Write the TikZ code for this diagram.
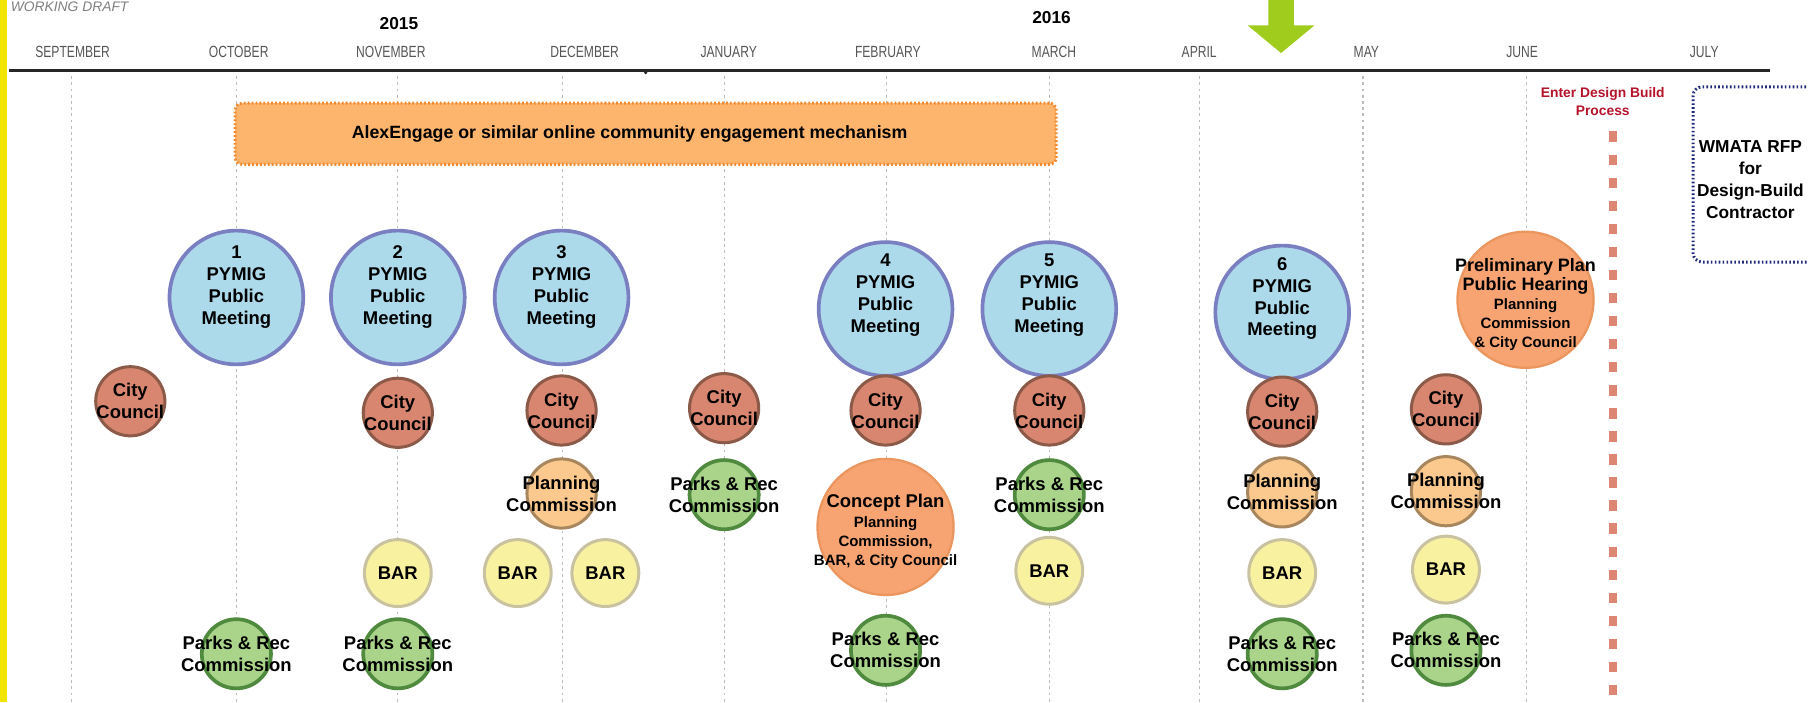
\documentclass[tikz,border=0pt]{standalone}
\usepackage{fontspec}
\setmainfont{Liberation Sans}
\newfontfamily\monthfont[FakeStretch=0.75]{Liberation Sans}
\definecolor{stripyellow}{HTML}{F2E600}
\definecolor{pyfill}{HTML}{ADDAEB}
\definecolor{pyline}{HTML}{7A7FC2}
\definecolor{ccfill}{HTML}{D98670}
\definecolor{ccline}{HTML}{8C5A48}
\definecolor{plfill}{HTML}{FBC98E}
\definecolor{plline}{HTML}{A8865E}
\definecolor{prfill}{HTML}{A9D48A}
\definecolor{prline}{HTML}{4F8A3E}
\definecolor{barfill}{HTML}{F8F1A0}
\definecolor{barline}{HTML}{C9C2A0}
\definecolor{bigfill}{HTML}{F8A472}
\definecolor{bigline}{HTML}{EB955F}
\definecolor{engfill}{HTML}{FDB46C}
\definecolor{engline}{HTML}{F08A30}
\definecolor{redline}{HTML}{DD8674}
\definecolor{crimson}{HTML}{B5132B}
\definecolor{navy}{HTML}{1F2A7A}
\definecolor{arrowgreen}{HTML}{A0CC1E}
\definecolor{gridgray}{HTML}{BBBBBB}
\definecolor{monthgray}{HTML}{555555}
\begin{document}
\begin{tikzpicture}[x=0.5pt,y=-0.5pt,
  circ/.style={circle, inner sep=0pt, draw},
  pymig/.style={circ, minimum size=58pt, fill=pyfill, draw=pyline, line width=1.6pt},
  city/.style={circ, minimum size=30pt, fill=ccfill, draw=ccline, line width=1.3pt},
  plan/.style={circ, minimum size=30pt, fill=plfill, draw=plline, line width=1.3pt},
  parks/.style={circ, minimum size=30pt, fill=prfill, draw=prline, line width=1.6pt},
  bar/.style={circ, minimum size=29pt, fill=barfill, draw=barline, line width=1.3pt},
  big/.style={circ, minimum size=59pt, fill=bigfill, draw=bigline, line width=1pt},
  lbl/.style={align=center, inner sep=0pt, font=\bfseries\fontsize{8}{9.5}\selectfont},
  lblsm/.style={align=center, inner sep=0pt, font=\bfseries\fontsize{6.5}{8.3}\selectfont},
  month/.style={font=\monthfont\fontsize{7}{8}\selectfont, text=monthgray, inner sep=0pt},
  year/.style={font=\bfseries\fontsize{7.5}{9}\selectfont, inner sep=0pt},
  grid/.style={draw=gridgray, line width=0.5pt, dash pattern=on 1.2pt off 1.5pt},
]
\useasboundingbox (0,0) rectangle (1568,609);
\fill[white] (0,0) rectangle (1568,609);
\fill[stripyellow] (0,0) rectangle (6,609);

% grid lines
\foreach \x in {62,205,345,488,628,769,910,1040,1182,1324}
  \draw[grid] (\x,66) -- (\x,609);

% header
\node[font=\itshape\fontsize{6}{7}\selectfont, text=gray, anchor=west, inner sep=0pt] (wd) at (9,6) {WORKING DRAFT};
\node[year] (y15) at (346,20) {2015};
\node[year] (y16) at (912,15) {2016};
\node[month] (sep) at (63,45) {SEPTEMBER};
\node[month] (oct) at (207,45) {OCTOBER};
\node[month] (nov) at (339,45) {NOVEMBER};
\node[month] (dec) at (507,45) {DECEMBER};
\node[month] (jan) at (632,45) {JANUARY};
\node[month] (feb) at (770,45) {FEBRUARY};
\node[month] (mar) at (914,45) {MARCH};
\node[month] (apr) at (1040,45) {APRIL};
\node[month] (may) at (1185,45) {MAY};
\node[month] (jun) at (1320,45) {JUNE};
\node[month] (jul) at (1478,45) {JULY};
\draw[line width=1.3pt, black!85] (8,61.5) -- (1535,61.5);
\fill[black!85] (560,63) circle (1.5);

% green arrow
\fill[arrowgreen] (1100,-2) -- (1122,-2) -- (1122,22) -- (1140,22) -- (1111,46) -- (1082,22) -- (1100,22) -- cycle;

% engagement bar
\node[rectangle, rounded corners=3pt, minimum width=356pt, minimum height=26.5pt,
  fill=engfill, draw=engline, line width=1.3pt, dash pattern=on 0.8pt off 0.9pt,
  label={[lbl, font=\bfseries\fontsize{7.7}{9}\selectfont, xshift=-7pt, name=aet]center:AlexEngage or similar online community engagement mechanism}]
  (ae) at (560,116) {};

% design build marker
\node[lblsm, font=\bfseries\fontsize{6}{8}\selectfont, text=crimson] (edb) at (1390,88) {Enter Design Build\\Process};
\coordinate (rtop) at (1399,114);
\coordinate (rbot) at (1399,612);
\draw[redline, line width=3.5pt, dash pattern=on 4.5pt off 5.5pt] (rtop) -- (rbot);

% WMATA box
\node[rectangle, rounded corners=4pt, minimum width=70pt, minimum height=76pt, anchor=north west,
  draw=navy, line width=1.3pt, dash pattern=on 0.7pt off 1pt] (wm) at (1467,74) {};
\node[lbl, font=\bfseries\fontsize{7.5}{9.5}\selectfont] (wmt) at (1518,156) {WMATA RFP\\for\\Design-Build\\Contractor};

% PYMIG meetings
\node[pymig, label={[lbl, yshift=4.5pt, name=m1t]center:1\\PYMIG\\Public\\Meeting}] (m1) at (205,258) {};
\node[pymig, label={[lbl, yshift=4.5pt, name=m2t]center:2\\PYMIG\\Public\\Meeting}] (m2) at (345,258) {};
\node[pymig, label={[lbl, yshift=4.5pt, name=m3t]center:3\\PYMIG\\Public\\Meeting}] (m3) at (487,258) {};
\node[pymig, label={[lbl, yshift=6pt, name=m4t]center:4\\PYMIG\\Public\\Meeting}] (m4) at (768,268) {};
\node[pymig, label={[lbl, yshift=6pt, name=m5t]center:5\\PYMIG\\Public\\Meeting}] (m5) at (910,268) {};
\node[pymig, label={[lbl, yshift=6pt, name=m6t]center:6\\PYMIG\\Public\\Meeting}] (m6) at (1112,271) {};

% City Council
\foreach \n/\x/\y in {1/113/348, 2/345/358, 3/487/356, 4/628/354, 5/768/356, 6/910/356, 7/1112/357, 8/1254/355}
  \node[city, label={[lbl, name=cc\n t]center:City\\Council}] (cc\n) at (\x,\y) {};

% Planning Commission
\foreach \n/\x/\y in {1/487/428, 2/1112/427, 3/1254/426}
  \node[plan, label={[lbl, name=pc\n t]center:Planning\\Commission}] (pc\n) at (\x,\y) {};

% Parks & Rec
\foreach \n/\x/\y in {1/628/429, 2/910/429, 3/205/567, 4/345/567, 5/768/564, 6/1112/567, 7/1254/564}
  \node[parks, label={[lbl, name=pr\n t]center:Parks \& Rec\\Commission}] (pr\n) at (\x,\y) {};

% BAR
\foreach \n/\x/\y in {1/345/497, 2/449/497, 3/525/497, 4/910/495, 5/1112/497, 6/1254/494}
  \node[bar, label={[lbl, name=b\n t]center:BAR}] (b\n) at (\x,\y) {};

% Concept plan
\node[big, label={[lblsm, yshift=-2pt, name=cpt]center:{\fontsize{8}{8.3}\selectfont Concept Plan}\\Planning\\Commission,\\BAR, \& City Council}] (cp) at (768,457) {};

% Preliminary plan
\node[big, label={[lblsm, yshift=-2pt, name=ppt]center:{\fontsize{7.8}{8.3}\selectfont Preliminary Plan}\\{\fontsize{7.8}{8.3}\selectfont Public Hearing}\\Planning\\Commission\\\& City Council}] (pp) at (1323,260) {};
\end{tikzpicture}
\end{document}
